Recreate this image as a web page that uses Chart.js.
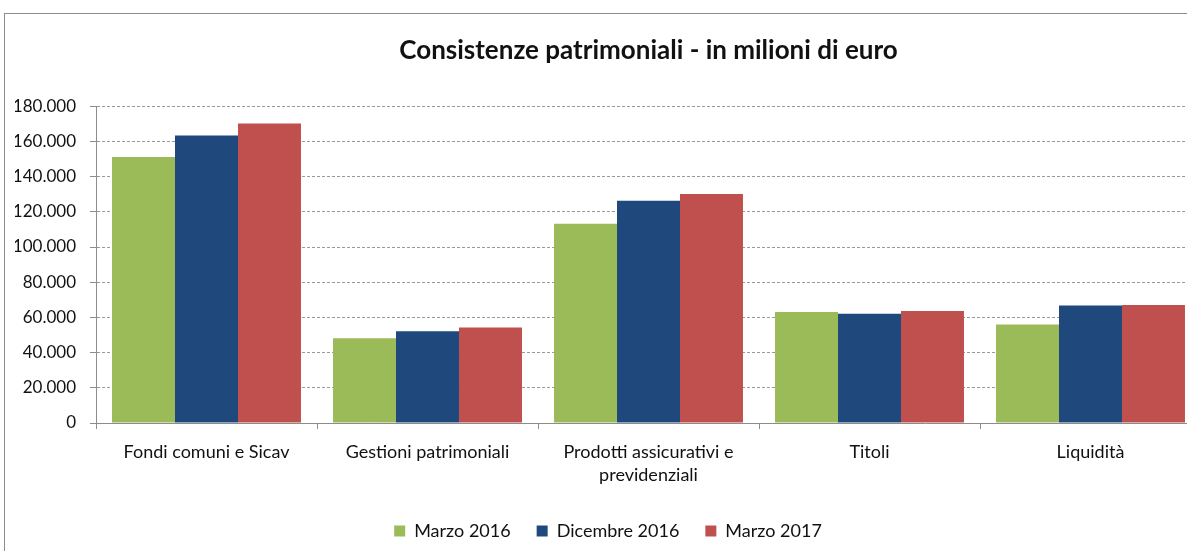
<!DOCTYPE html>
<html>
<head>
<meta charset="utf-8">
<script src="https://cdn.jsdelivr.net/npm/chart.js@4/dist/chart.umd.min.js"></script>
<style>
    html, body { margin: 0; padding: 0; background: #fff; overflow: hidden; }
    #frame { position: absolute; left: 4px; top: 13px; width: 1400px; height: 700px; border: 1px solid #8c8c8c; }
    #wrap { position: absolute; left: 0; top: 0; width: 1216px; height: 551px; }
</style>
</head>
<body>
<div id="frame"></div>
<div id="wrap"><canvas id="patrimonioChart"></canvas></div>
<script>
// Consistenze patrimoniali (milioni di euro)
const categorie = [
    'Fondi comuni e Sicav',
    'Gestioni patrimoniali',
    ['Prodotti assicurativi e', 'previdenziali'],
    'Titoli',
    'Liquidità'
];
const marzo2016 = [151100, 48100, 113200, 63100, 55900];
const dicembre2016 = [163300, 52100, 126300, 62100, 66700];
const marzo2017 = [170100, 54200, 130100, 63600, 67100];
const tickValori = [0, 20000, 40000, 60000, 80000, 100000, 120000, 140000, 160000, 180000];

const fontBase = "Lato, 'Open Sans', sans-serif";

function formatMigliaia(v) {
    return v.toLocaleString('it-IT');
}

const ctx = document.getElementById('patrimonioChart');
new Chart(ctx.getContext('2d'), {
    type: 'bar',
    data: {
        labels: categorie,
        datasets: [
            { label: 'Marzo 2016', data: marzo2016, backgroundColor: '#9BBB59' },
            { label: 'Dicembre 2016', data: dicembre2016, backgroundColor: '#1F497D' },
            { label: 'Marzo 2017', data: marzo2017, backgroundColor: '#C0504D' }
        ]
    },
    options: {
        responsive: true,
        maintainAspectRatio: false,
        animation: false,
        layout: { padding: { left: 15, right: 15, top: 0, bottom: 1 } },
        datasets: {
            bar: { categoryPercentage: 0.855, barPercentage: 1.0, borderWidth: 0 }
        },
        scales: {
            x: {
                grid: { drawOnChartArea: false, drawTicks: true, tickLength: 6, color: '#8c8c8c', offset: true },
                border: { color: '#8c8c8c' },
                ticks: { color: '#111', padding: 12, font: { family: fontBase, size: 18, lineHeight: 1.25 } },
                afterFit: function(scale) { scale.height = 73; }
            },
            y: {
                min: 0,
                max: 180000,
                afterBuildTicks: function(scale) {
                    scale.ticks = tickValori.map(v => ({ value: v }));
                },
                grid: { color: '#9a9a9a', tickLength: 6, tickColor: '#8c8c8c', tickBorderDash: [] },
                border: { color: '#8c8c8c', dash: [3, 2] },
                ticks: {
                    color: '#111',
                    padding: 14,
                    font: { family: fontBase, size: 17 },
                    callback: function(value) { return formatMigliaia(value); }
                },
                afterFit: function(scale) { scale.width = 81; }
            }
        },
        plugins: {
            title: {
                display: true,
                text: 'Consistenze patrimoniali - in milioni di euro',
                fullSize: false,
                color: '#111',
                font: { family: fontBase, size: 26, weight: 'bold', lineHeight: 1.2 },
                padding: { top: 35, bottom: 40 }
            },
            legend: {
                position: 'bottom',
                labels: {
                    color: '#111',
                    boxWidth: 11,
                    boxHeight: 11,
                    padding: 26,
                    font: { family: fontBase, size: 18 }
                }
            },
            tooltip: {
                callbacks: {
                    label: function(item) {
                        return item.dataset.label + ': ' + formatMigliaia(item.raw);
                    }
                }
            }
        }
    }
});
</script>
</body>
</html>
